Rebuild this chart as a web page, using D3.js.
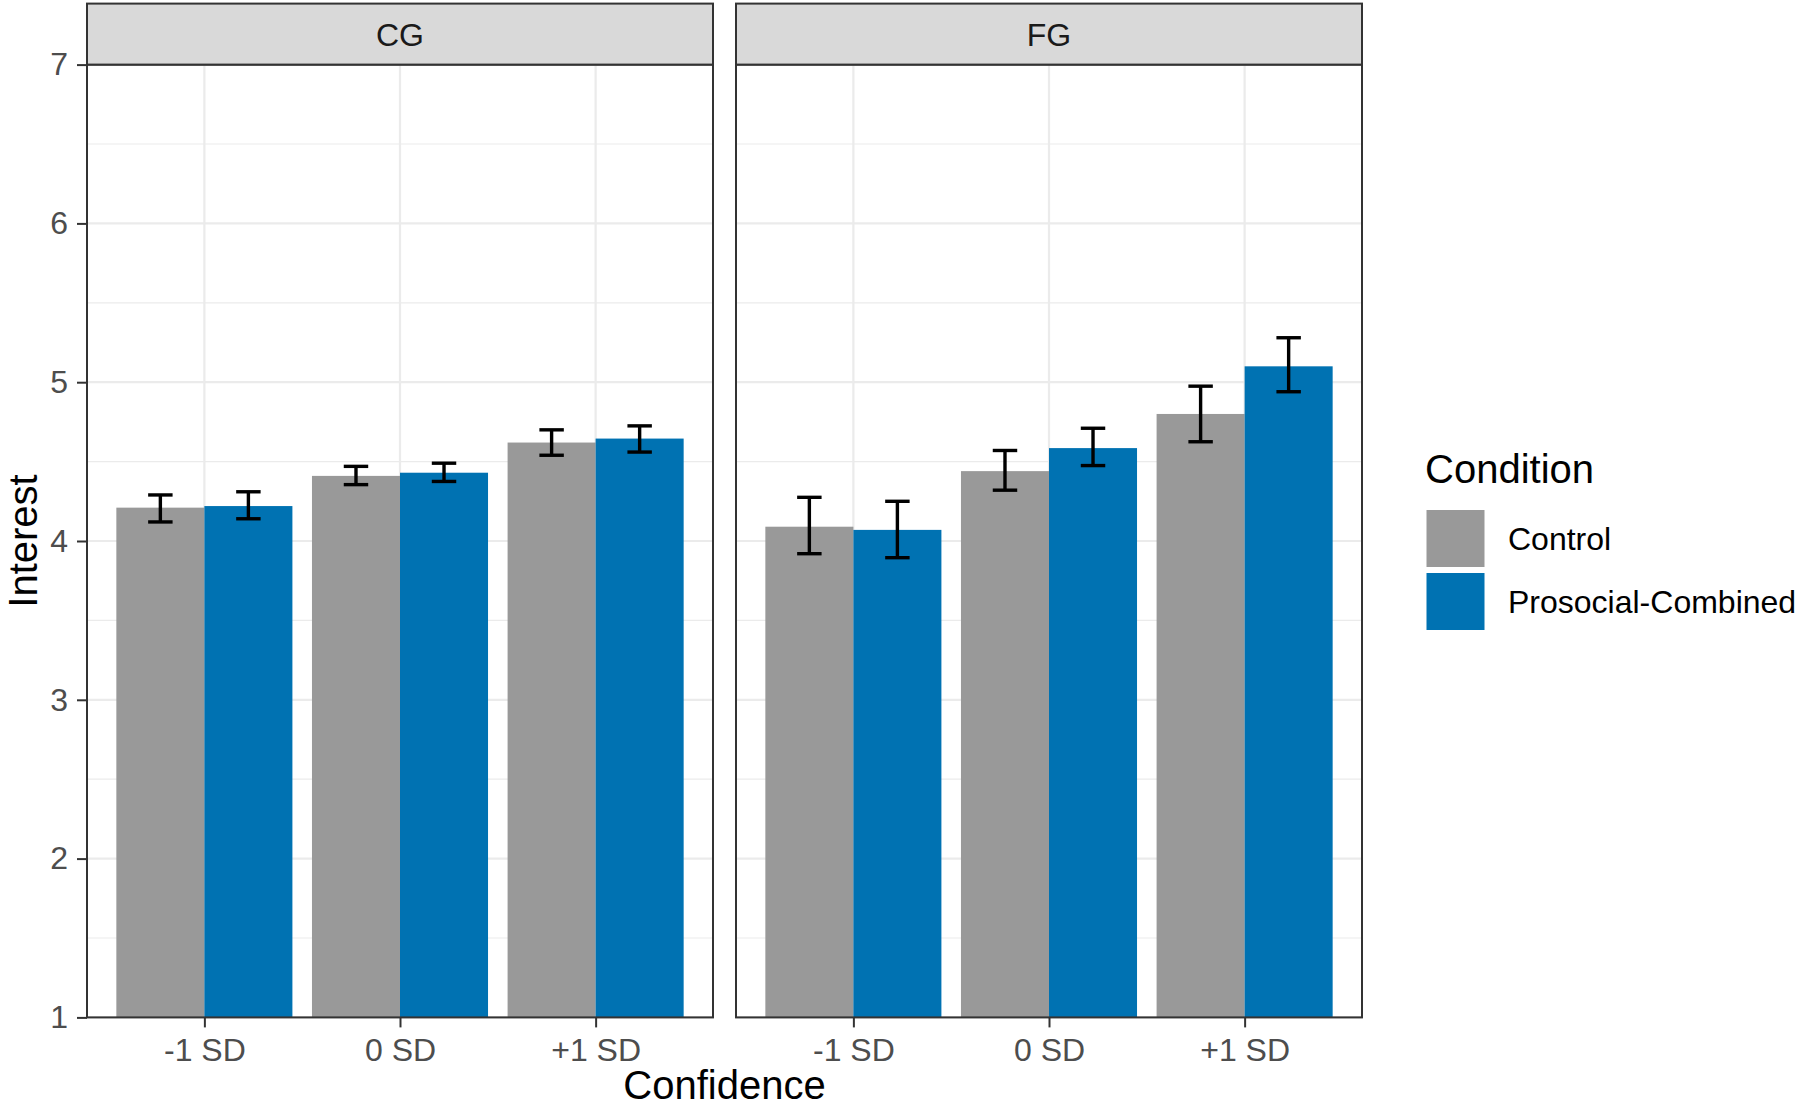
<!DOCTYPE html>
<html>
<head>
<meta charset="utf-8">
<script src="https://cdn.jsdelivr.net/npm/d3@7"></script>
<style>
  html, body { margin: 0; padding: 0; background: #fff; }
  svg { display: block; font-family: "Liberation Sans", Arial, Helvetica, sans-serif; }
</style>
</head>
<body>
<svg id="chart" width="1800" height="1108"></svg>
<script>
// ---------------- data ----------------
const facets = ["CG", "FG"];
const categories = ["-1 SD", "0 SD", "+1 SD"];
const conditions = ["Control", "Prosocial-Combined"];
const conditionColors = ["#999999", "#0072B2"];
const yTicks = [1, 2, 3, 4, 5, 6, 7];
const yMinorTicks = [1.5, 2.5, 3.5, 4.5, 5.5, 6.5];

const cgControlMean   = [4.21, 4.41, 4.62];
const cgControlLower  = [4.12, 4.355, 4.54];
const cgControlUpper  = [4.29, 4.47, 4.70];
const cgProsocialMean  = [4.22, 4.43, 4.645];
const cgProsocialLower = [4.14, 4.375, 4.56];
const cgProsocialUpper = [4.31, 4.49, 4.725];

const fgControlMean   = [4.09, 4.44, 4.80];
const fgControlLower  = [3.92, 4.32, 4.625];
const fgControlUpper  = [4.275, 4.57, 4.975];
const fgProsocialMean  = [4.07, 4.585, 5.10];
const fgProsocialLower = [3.895, 4.475, 4.94];
const fgProsocialUpper = [4.25, 4.71, 5.28];

const xTitle = "Confidence";
const yTitle = "Interest";
const legendTitle = "Condition";

const series = {
  CG: [
    { mean: cgControlMean, lo: cgControlLower, hi: cgControlUpper },
    { mean: cgProsocialMean, lo: cgProsocialLower, hi: cgProsocialUpper }
  ],
  FG: [
    { mean: fgControlMean, lo: fgControlLower, hi: fgControlUpper },
    { mean: fgProsocialMean, lo: fgProsocialLower, hi: fgProsocialUpper }
  ]
};

// ---------------- layout ----------------
const svg = d3.select("#chart");
svg.append("rect").attr("width", 1800).attr("height", 1108).attr("fill", "#fff");

const panelTop = 64.6, panelBottom = 1017.4;
const panelW = 626, panelGap = 23, panelLeft0 = 87;
const stripTop = 3.6;
const FONT_SMALL = 32, FONT_BIG = 40;

const y = d3.scaleLinear().domain([1, 7]).range([panelBottom, panelTop]);

facets.forEach((f, fi) => {
  const x0 = panelLeft0 + fi * (panelW + panelGap);
  const x1 = x0 + panelW;
  const g = svg.append("g").attr("class", "panel-" + f);

  const x = d3.scalePoint().domain(categories).range([x0, x1]).padding(0.6);
  const step = x.step();
  const dodge = d3.scaleBand().domain(conditions).range([-0.45 * step, 0.45 * step]).padding(0);

  g.append("rect").attr("x", x0).attr("y", panelTop).attr("width", panelW)
    .attr("height", panelBottom - panelTop).attr("fill", "#fff");

  g.selectAll(".ymin").data(yMinorTicks).enter().append("line")
    .attr("x1", x0).attr("x2", x1).attr("y1", d => y(d)).attr("y2", d => y(d))
    .attr("stroke", "#EBEBEB").attr("stroke-width", 1.2);
  g.selectAll(".ymaj").data(yTicks).enter().append("line")
    .attr("x1", x0).attr("x2", x1).attr("y1", d => y(d)).attr("y2", d => y(d))
    .attr("stroke", "#EBEBEB").attr("stroke-width", 2.2);
  g.selectAll(".xmaj").data(categories).enter().append("line")
    .attr("x1", d => x(d)).attr("x2", d => x(d)).attr("y1", panelTop).attr("y2", panelBottom)
    .attr("stroke", "#EBEBEB").attr("stroke-width", 2.2);

  conditions.forEach((c, ci) => {
    const s = series[f][ci];
    g.selectAll(".bar" + ci).data(categories).enter().append("rect")
      .attr("x", (d) => x(d) + dodge(c))
      .attr("width", dodge.bandwidth())
      .attr("y", (d, i) => y(s.mean[i]))
      .attr("height", (d, i) => y(1) - y(s.mean[i]))
      .attr("fill", conditionColors[ci]);
  });

  const capW = 0.125 * step;
  conditions.forEach((c, ci) => {
    const s = series[f][ci];
    const eg = g.selectAll(".err" + ci).data(categories).enter().append("g");
    const cx = d => x(d) + dodge(c) + dodge.bandwidth() / 2;
    eg.append("line").attr("x1", cx).attr("x2", cx)
      .attr("y1", (d, i) => y(s.lo[i])).attr("y2", (d, i) => y(s.hi[i]));
    eg.append("line").attr("x1", d => cx(d) - capW / 2).attr("x2", d => cx(d) + capW / 2)
      .attr("y1", (d, i) => y(s.lo[i])).attr("y2", (d, i) => y(s.lo[i]));
    eg.append("line").attr("x1", d => cx(d) - capW / 2).attr("x2", d => cx(d) + capW / 2)
      .attr("y1", (d, i) => y(s.hi[i])).attr("y2", (d, i) => y(s.hi[i]));
    eg.selectAll("line").attr("stroke", "#000").attr("stroke-width", 3.4);
  });

  g.append("rect").attr("x", x0).attr("y", panelTop).attr("width", panelW)
    .attr("height", panelBottom - panelTop).attr("fill", "none")
    .attr("stroke", "#333333").attr("stroke-width", 2);

  g.append("rect").attr("x", x0).attr("y", stripTop).attr("width", panelW)
    .attr("height", panelTop - stripTop).attr("fill", "#D9D9D9")
    .attr("stroke", "#333333").attr("stroke-width", 2);
  g.append("text").attr("x", (x0 + x1) / 2).attr("y", 45.5)
    .attr("text-anchor", "middle").attr("font-size", FONT_SMALL).attr("fill", "#1A1A1A").text(f);

  const xa = svg.append("g").attr("transform", `translate(0,${panelBottom})`)
    .call(d3.axisBottom(x).tickSize(10).tickPadding(11));
  xa.select(".domain").remove();
  xa.selectAll(".tick line").attr("stroke", "#333333").attr("stroke-width", 2);
  xa.selectAll(".tick text").attr("font-size", FONT_SMALL).attr("fill", "#4D4D4D")
    .attr("font-family", "Liberation Sans, Arial, sans-serif");

  if (fi === 0) {
    const ya = svg.append("g").attr("transform", `translate(${x0},0)`)
      .call(d3.axisLeft(y).tickValues(yTicks).tickFormat(d3.format("d")).tickSize(10).tickPadding(9));
    ya.select(".domain").remove();
    ya.selectAll(".tick line").attr("stroke", "#333333").attr("stroke-width", 2);
    ya.selectAll(".tick text").attr("font-size", FONT_SMALL).attr("fill", "#4D4D4D")
      .attr("font-family", "Liberation Sans, Arial, sans-serif");
  }
});

const plotCenterX = panelLeft0 + (2 * panelW + panelGap) / 2;
svg.append("text").attr("x", plotCenterX).attr("y", 1099)
  .attr("text-anchor", "middle").attr("font-size", FONT_BIG).attr("fill", "#000").text(xTitle);
svg.append("text").attr("transform", `translate(37,${(panelTop + panelBottom) / 2}) rotate(-90)`)
  .attr("text-anchor", "middle").attr("font-size", FONT_BIG).attr("fill", "#000").text(yTitle);

const lg = svg.append("g");
lg.append("text").attr("x", 1425).attr("y", 483).attr("font-size", FONT_BIG).attr("fill", "#000").text(legendTitle);
const keyY = d3.scaleBand().domain(conditions).range([507, 633]);
conditions.forEach((c, ci) => {
  lg.append("rect").attr("x", 1426.5).attr("y", keyY(c) + 3).attr("width", 58)
    .attr("height", keyY.bandwidth() - 6).attr("fill", conditionColors[ci]);
  lg.append("text").attr("x", 1508).attr("y", keyY(c) + keyY.bandwidth() / 2 + 11.5)
    .attr("font-size", FONT_SMALL).attr("fill", "#000").text(c);
});
</script>
</body>
</html>
